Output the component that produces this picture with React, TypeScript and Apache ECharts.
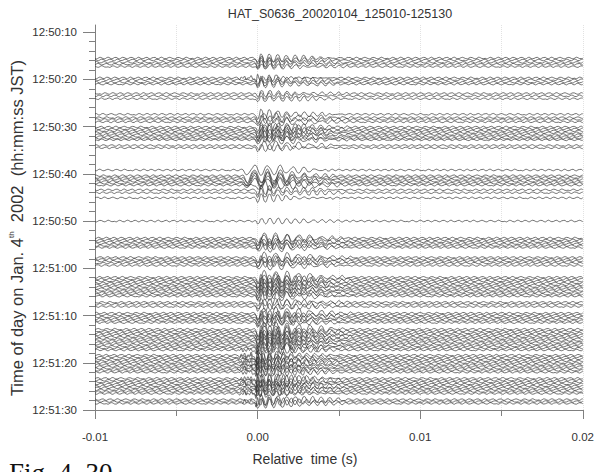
import React, { useEffect, useRef } from 'react';
import * as echarts from 'echarts';

const TITLE = 'HAT_S0636_20020104_125010-125130';
const X_NAME = 'Relative  time (s)';
const CAPTION = 'Fig. 4. 30';
const FONT = '"Liberation Sans", Arial, sans-serif';

const X_MIN = -0.01;
const X_MAX = 0.02;
const X_INTERVAL = 0.01;
const SAMPLE_STEP = 0.0001;

// seconds after 12:50:00 (axis runs downward)
const Y_MIN = 8.5;
const Y_MAX = 90;
const Y_LABEL_VALUES = [10, 20, 30, 40, 50, 60, 70, 80, 90];
const Y_MINOR_VALUES = [12, 14, 16, 18, 22, 24, 26, 28, 32, 34, 36, 38, 42, 44, 46, 48, 52, 54, 56, 58, 62, 64, 66, 68, 72, 74, 76, 78, 82, 84, 86, 88];

// trace start times (s after 12:50:00)
const traceTimes = [
  15.5, 15.9, 16.4, 16.8, 17.3,
  19.7, 20.1, 20.6, 21.0,
  23.0, 23.5, 24.1,
  27.4, 28.1, 28.5, 29.0,
  30.1, 30.5, 30.9, 31.3, 31.7, 32.1, 32.5, 32.8,
  34.0, 34.5,
  39.2, 40.4, 40.8, 41.2, 41.6, 42.0, 42.4, 43.4, 44.0, 45.1,
  50.0,
  53.6, 54.0, 54.4, 54.8, 55.2, 55.6,
  57.7, 58.1, 58.5, 58.9, 59.4,
  61.9, 62.3, 62.7, 63.1, 63.5, 63.9, 64.3, 64.7, 65.1, 65.5, 65.9,
  67.2, 67.6, 68.1,
  69.5, 69.9, 70.3, 70.7, 71.1, 71.5,
  72.9, 73.3, 73.7, 74.1, 74.5, 74.9, 75.3, 75.7, 76.1, 76.5, 76.9, 77.3,
  78.4, 78.8, 79.2, 79.6, 80.0, 80.4, 80.8, 81.2, 81.6, 82.0,
  83.3, 83.7, 84.1, 84.5, 84.9, 85.3, 85.7, 86.1, 86.5,
  87.8, 88.2, 88.6,
];
// burst shape index for each trace
const traceShapes = [
  0, 0, 0, 0, 0,
  2, 0, 0, 0,
  0, 0, 0,
  0, 1, 0, 1,
  0, 1, 0, 1, 0, 1, 0, 1,
  1, 0,
  3, 3, 3, 3, 3, 3, 1, 0, 0, 0,
  0,
  1, 1, 0, 1, 0, 1,
  1, 0, 1, 0, 1,
  1, 0, 1, 0, 1, 0, 1, 0, 1, 0, 1,
  0, 1, 0,
  1, 0, 1, 0, 1, 0,
  1, 0, 1, 0, 1, 0, 1, 0, 1, 0, 1, 2,
  2, 2, 0, 2, 2, 0, 2, 2, 0, 2,
  2, 0, 2, 2, 0, 2, 0, 2, 2,
  0, 2, 0,
];
// burst amplitude (s) for each trace
const traceGains = [
  1.0, 0.8, 0.9, 0.8, 0.7,
  0.8, 0.9, 0.8, 0.7,
  0.8, 0.7, 0.8,
  1.1, 0.9, 1.0, 0.8,
  1.2, 1.0, 1.3, 1.1, 1.2, 1.0, 0.9, 0.8,
  0.8, 0.7,
  1.0, 1.3, 1.2, 1.3, 1.1, 1.0, 1.0, 0.9, 1.0, 0.8,
  0.6,
  1.0, 1.1, 0.9, 1.0, 0.9, 0.8,
  1.0, 0.9, 1.0, 0.8, 0.8,
  1.3, 1.2, 1.4, 1.1, 1.3, 1.2, 1.1, 1.2, 1.0, 1.1, 0.9,
  1.0, 1.1, 0.9,
  1.2, 1.0, 1.1, 1.2, 1.0, 0.9,
  1.5, 1.4, 1.6, 1.3, 1.5, 1.4, 1.2, 1.3, 1.4, 1.2, 1.3, 1.0,
  1.2, 1.3, 1.2, 1.1, 1.3, 1.0, 1.1, 1.2, 1.0, 1.1,
  1.3, 1.4, 1.2, 1.1, 1.2, 1.0, 1.2, 1.1, 1.0,
  1.3, 1.1, 1.0,
];

const NOISE_GAIN = 0.2;
const noisePattern = [
  0.3, 0.9, 0.1, -0.8, -0.4, 0.6, 0.8, -0.2, -0.9, -0.3, 0.7, 0.5,
  -0.6, -0.7, 0.2, 0.9, 0.0, -0.8, -0.5, 0.4, 0.8, -0.1, -0.7, -0.6,
  0.5, 0.9, -0.3, -0.9, 0.1, 0.7, 0.4, -0.5, -0.8, 0.3, 0.9, -0.2,
  -0.6, -0.7, 0.6, 0.7, -0.4, -0.9, 0.0, 0.8, 0.5, -0.3, -0.8, -0.2,
  0.6, 0.9, -0.1, -0.7, -0.5, 0.4, 0.8, 0.1, -0.9, -0.4, 0.5, 0.6,
];

// burst onset times (s) for each shape
const burstStarts = [-0.0002, -0.0002, -0.0012, -0.0009];
const burstA = [
  0, 0.2, 1.0, 0.4, -0.9, -0.6, 0.7, 0.9, 0.1, -0.8, -0.7, 0.4, 0.8, 0.2, -0.6, -0.7,
  0.1, 0.7, 0.5, -0.4, -0.6, -0.1, 0.5, 0.5, -0.2, -0.5, -0.3, 0.3, 0.5, 0.1, -0.4, -0.4,
  0.1, 0.4, 0.3, -0.2, -0.4, -0.1, 0.3, 0.3, -0.1, -0.3, -0.2, 0.2, 0.3, 0.0, -0.2, -0.2,
  0.1, 0.2, 0.1, -0.1, -0.2, 0.0, 0.1, 0.1, 0.0, -0.1,
];
const burstB = [
  0, 0.3, 0.9, 1.0, 0.3, -0.6, -1.0, -0.7, 0.2, 0.9, 1.0, 0.4, -0.5, -1.0, -0.8, 0.1,
  0.8, 0.9, 0.4, -0.4, -0.9, -0.7, 0.0, 0.7, 0.8, 0.3, -0.4, -0.7, -0.6, 0.0, 0.5, 0.6,
  0.3, -0.3, -0.5, -0.4, 0.0, 0.4, 0.5, 0.2, -0.2, -0.4, -0.3, 0.1, 0.3, 0.3, 0.0, -0.2,
  -0.3, -0.1, 0.1, 0.2, 0.1, -0.1, -0.2, 0.0, 0.1, 0.1, 0.0, -0.1,
];
const burstC = [
  0, 0.2, -0.2, 0.3, -0.3, 0.4, -0.2, 0.1, -0.4, 0.3, 0.2, 1.0, -0.9, 0.5, 0.8, -0.6,
  -0.3, 0.7, 0.4, -0.7, -0.2, 0.6, 0.5, -0.5, -0.6, 0.4, 0.6, -0.2, -0.6, 0.1, 0.6, 0.3,
  -0.4, -0.5, 0.2, 0.5, 0.1, -0.4, -0.3, 0.3, 0.4, -0.1, -0.4, -0.1, 0.3, 0.3, -0.2, -0.3,
  0.0, 0.3, 0.1, -0.2, -0.2, 0.1, 0.2, 0.0, -0.2, -0.1, 0.1, 0.1, 0.0, -0.1,
];
const burstG = [
  0, 0.4, 0.9, 1.0, 0.6, -0.1, -0.7, -1.0, -0.8, -0.1, 0.6, 1.0, 0.9, 0.2, -0.6, -1.0,
  -0.8, -0.1, 0.7, 1.0, 0.7, 0.0, -0.7, -0.9, -0.6, 0.1, 0.6, 0.7, 0.4, -0.2, -0.6, -0.6,
  -0.2, 0.3, 0.5, 0.4, 0.0, -0.4, -0.5, -0.2, 0.2, 0.4, 0.3, -0.1, -0.3, -0.3, 0.0, 0.3,
  0.2, 0.0, -0.2, -0.2, 0.0, 0.2, 0.1, -0.1, -0.1, 0.0,
];
const bursts = [burstA, burstB, burstC, burstG];

function timeLabel(v: number): string {
  const total = Math.round(v);
  const m = 50 + Math.floor(total / 60);
  const s = total % 60;
  return `12:${m}:${s < 10 ? '0' + s : s}`;
}

function buildSeries() {
  const nSamples = Math.round((X_MAX - X_MIN) / SAMPLE_STEP);
  const firstIdx = Math.round(X_MIN / SAMPLE_STEP);
  const N = noisePattern.length;
  return traceTimes.map((t0, k) => {
    const shape = traceShapes[k];
    const burst = bursts[shape];
    const startIdx = Math.round((burstStarts[shape] - X_MIN) / SAMPLE_STEP);
    const data: [number, number][] = [];
    for (let i = 0; i <= nSamples; i++) {
      const x = (i + firstIdx) * SAMPLE_STEP;
      let v = t0 + NOISE_GAIN * noisePattern[(i + k * 13) % N];
      const j = i - startIdx;
      if (j >= 0 && j < burst.length) v += traceGains[k] * burst[j];
      data.push([x, v]);
    }
    return {
      type: 'line',
      data,
      showSymbol: false,
      silent: true,
      smooth: 0.3,
      lineStyle: { color: '#333', width: 0.7 },
    };
  });
}

export default function App() {
  const ref = useRef<HTMLDivElement>(null);
  useEffect(() => {
    document.body.style.margin = '0';
    if (!ref.current) return;
    const chart = echarts.init(ref.current, undefined, { renderer: 'svg' });
    const axisColor = '#808080';
    chart.setOption({
      animation: false,
      backgroundColor: '#fff',
      grid: { left: 95, right: 14, top: 25, bottom: 62 },
      xAxis: {
        type: 'value',
        min: X_MIN,
        max: X_MAX,
        interval: X_INTERVAL,
        axisLine: { onZero: false, lineStyle: { color: axisColor, width: 1 } },
        axisTick: { length: 9, lineStyle: { color: axisColor } },
        minorTick: { show: true, splitNumber: 2, length: 6, lineStyle: { color: axisColor } },
        axisLabel: {
          margin: 21, color: '#333', fontSize: 11.5, fontFamily: FONT,
          formatter: (v: number) => v.toFixed(2),
        },
        splitLine: { show: true, lineStyle: { color: '#e2e2e2', type: 'dotted', width: 1 } },
        minorSplitLine: { show: true, lineStyle: { color: '#e2e2e2', type: 'dotted', width: 1 } },
      },
      yAxis: [
        {
          type: 'value',
          inverse: true,
          min: Y_MIN,
          max: Y_MAX,
          axisLine: { show: true, onZero: false, lineStyle: { color: axisColor, width: 1 } },
          axisTick: { show: true, customValues: Y_LABEL_VALUES, length: 12, lineStyle: { color: axisColor } },
          axisLabel: {
            show: true, customValues: Y_LABEL_VALUES, margin: 18, color: '#333',
            fontSize: 11.5, fontFamily: FONT, formatter: (v: number) => timeLabel(v),
          },
          splitLine: { show: false },
        },
        {
          type: 'value',
          inverse: true,
          min: Y_MIN,
          max: Y_MAX,
          position: 'left',
          axisLine: { show: false, onZero: false },
          axisTick: { show: true, customValues: Y_MINOR_VALUES, length: 6, lineStyle: { color: axisColor } },
          axisLabel: { show: false },
          splitLine: { show: false },
        },
      ],
      series: buildSeries(),
      graphic: [
        {
          type: 'text', x: 340, y: 14,
          style: { text: TITLE, fontSize: 12.5, fontFamily: FONT, fill: '#333', align: 'center', verticalAlign: 'middle' },
        },
        {
          type: 'text', x: 17, y: 228, rotation: Math.PI / 2,
          style: {
            text: '{a|Time of day on Jan. 4}{s|th}{a|  2002  (hh:mm:ss JST)}',
            align: 'center', verticalAlign: 'middle',
            rich: {
              a: { fontSize: 16.5, fontFamily: FONT, fill: '#333', lineHeight: 19 },
              s: { fontSize: 8, fontFamily: FONT, fill: '#333', lineHeight: 19, verticalAlign: 'top' },
            },
          },
        },
        {
          type: 'text', x: 305, y: 459,
          style: { text: X_NAME, fontSize: 14, fontFamily: FONT, fill: '#333', align: 'center', verticalAlign: 'middle' },
        },
        {
          type: 'text', x: 9, y: 459,
          style: { text: CAPTION, fontSize: 27, fontFamily: '"Liberation Serif", "Times New Roman", serif', fill: '#111', align: 'left', verticalAlign: 'top' },
        },
      ],
    });
    return () => chart.dispose();
  }, []);
  return <div ref={ref} style={{ width: 597, height: 472 }} />;
}
